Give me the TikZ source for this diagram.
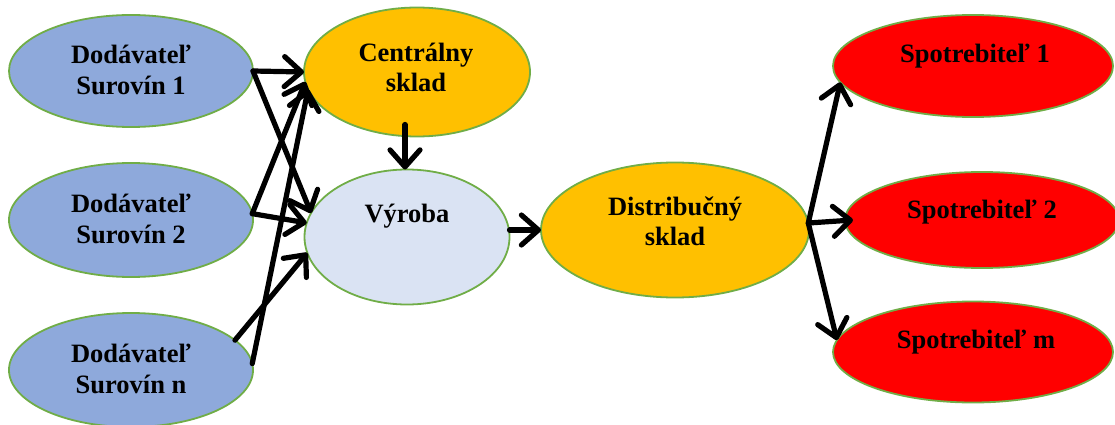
\documentclass[tikz,border=0pt]{standalone}
\usepackage{fontspec}
\setmainfont{Liberation Serif}
\usetikzlibrary{shapes.geometric,arrows.meta}
\definecolor{supplier}{HTML}{8EA9DB}
\definecolor{store}{HTML}{FFC000}
\definecolor{plant}{HTML}{DAE3F3}
\definecolor{consumer}{HTML}{FF0000}
\definecolor{rim}{HTML}{70AD47}
\begin{document}
\begin{tikzpicture}[x=1pt,y=-1pt,
  blob/.style={ellipse, draw=rim, line width=1.8pt, inner sep=0pt, outer sep=0pt},
  lbl/.style={anchor=base, font=\bfseries\fontsize{26.5}{31}\selectfont, inner sep=0pt},
  flow/.style={line width=5.2pt, line cap=round,
    -{Straight Barb[length=17pt,width=30pt,line cap=round,line join=round]}}]
\useasboundingbox (0,0) rectangle (1115,425);

% suppliers
\node[blob, fill=supplier, minimum width=244, minimum height=112] (s1) at (131,71) {};
\node[blob, fill=supplier, minimum width=244, minimum height=114] (s2) at (131,220) {};
\node[blob, fill=supplier, minimum width=244, minimum height=114] (sn) at (131,370) {};
% central store, production, distribution
\node[blob, fill=store, minimum width=226, minimum height=129] (cs) at (417,72) {};
\node[blob, fill=plant, minimum width=205, minimum height=135] (v) at (407,237) {};
\node[blob, fill=store, minimum width=268, minimum height=135] (d) at (675,230) {};
% consumers
\node[blob, fill=consumer, minimum width=280, minimum height=102] (p1) at (973,66) {};
\node[blob, fill=consumer, minimum width=274, minimum height=96] (p2) at (982,220) {};
\node[blob, fill=consumer, minimum width=280, minimum height=101] (pm) at (973,352) {};

% labels
\node[lbl] (s1a) at (131,64) {Dodávateľ};
\node[lbl] (s1b) at (131,95) {Surovín 1};
\node[lbl] (s2a) at (131,212) {Dodávateľ};
\node[lbl] (s2b) at (131,243) {Surovín 2};
\node[lbl] (sna) at (131,362) {Dodávateľ};
\node[lbl] (snb) at (131,393) {Surovín n};
\node[lbl] (csa) at (416,62) {Centrálny};
\node[lbl] (csb) at (416,92) {sklad};
\node[lbl] (va) at (407,222) {Výroba};
\node[lbl] (da) at (675,215) {Distribučný};
\node[lbl] (db) at (675,245) {sklad};
\node[lbl] (p1a) at (975,63) {Spotrebiteľ 1};
\node[lbl] (p2a) at (982,218) {Spotrebiteľ 2};
\node[lbl] (pma) at (976,348) {Spotrebiteľ m};

% material flows
\draw[flow] (s1.east) -- (cs.west);
\draw[flow] (s1.east) -- (v.166);
\draw[flow] (s2.3) -- (cs.185);
\draw[flow] (s2.3) -- (v.172);
\draw[flow] (sn.3) -- (cs.189);
\draw[flow] (sn.16) -- (v.189);
\draw[flow] ([xshift=-12pt,yshift=12pt]cs.south) -- ([xshift=-2pt]v.north);
\draw[flow] (v.east |- d.west) -- (d.west);
\draw[flow] (d.3) -- (p1.187);
\draw[flow] (d.3) -- ([xshift=8pt]p2.west);
\draw[flow] (d.3) -- (pm.175);
\end{tikzpicture}
\end{document}
